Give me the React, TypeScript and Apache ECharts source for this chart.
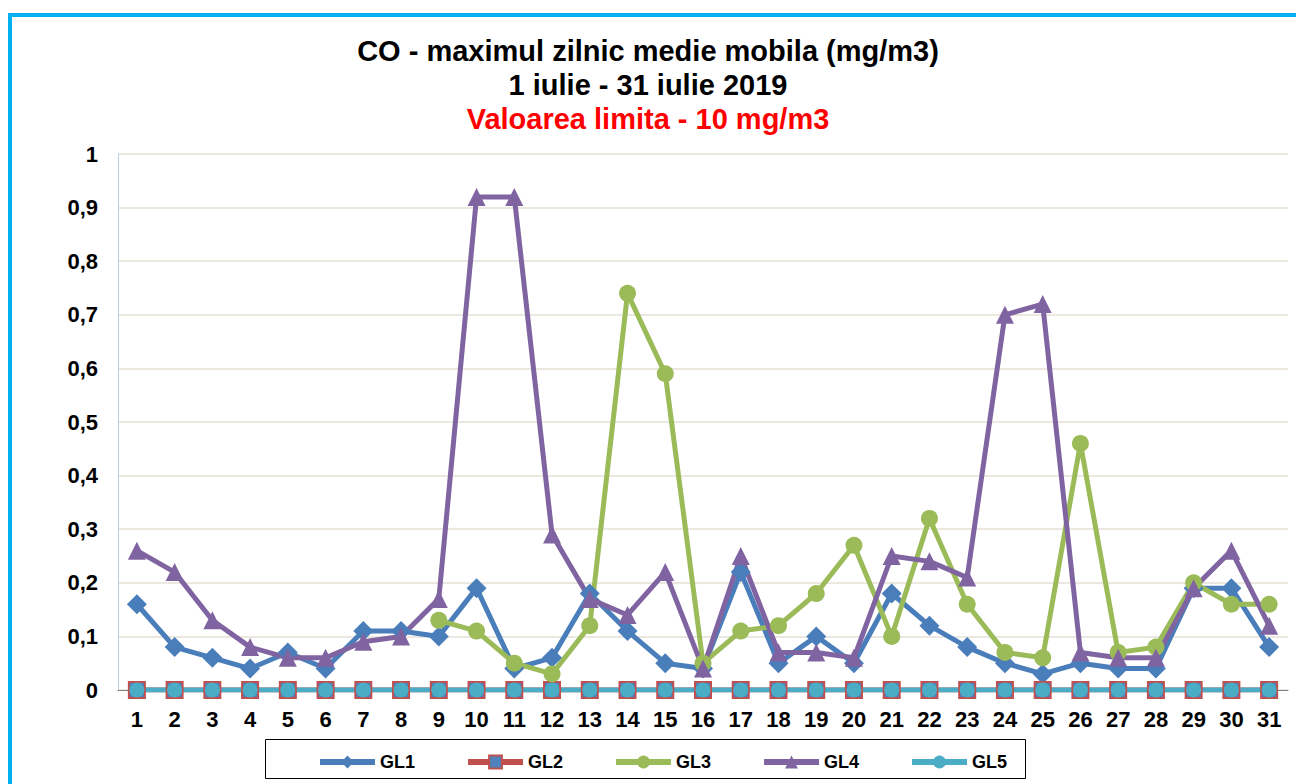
import React, { useEffect, useRef } from "react";
import * as echarts from "echarts";

const days = Array.from({ length: 31 }, (_, i) => String(i + 1));
const gl1 = [0.16, 0.08, 0.06, 0.04, 0.07, 0.04, 0.11, 0.11, 0.10, 0.19, 0.04, 0.06, 0.18, 0.11, 0.05, 0.04, 0.22, 0.05, 0.10, 0.05, 0.18, 0.12, 0.08, 0.05, 0.03, 0.05, 0.04, 0.04, 0.19, 0.19, 0.08];
const gl2 = [0, 0, 0, 0, 0, 0, 0, 0, 0, 0, 0, 0, 0, 0, 0, 0, 0, 0, 0, 0, 0, 0, 0, 0, 0, 0, 0, 0, 0, 0, 0];
const gl3 = [null, null, null, null, null, null, null, null, 0.13, 0.11, 0.05, 0.03, 0.12, 0.74, 0.59, 0.05, 0.11, 0.12, 0.18, 0.27, 0.10, 0.32, 0.16, 0.07, 0.06, 0.46, 0.07, 0.08, 0.20, 0.16, 0.16];
const gl4 = [0.26, 0.22, 0.13, 0.08, 0.06, 0.06, 0.09, 0.10, 0.17, 0.92, 0.92, 0.29, 0.17, 0.14, 0.22, 0.04, 0.25, 0.07, 0.07, 0.06, 0.25, 0.24, 0.21, 0.70, 0.72, 0.07, 0.06, 0.06, 0.19, 0.26, 0.12];
const gl5 = [0, 0, 0, 0, 0, 0, 0, 0, 0, 0, 0, 0, 0, 0, 0, 0, 0, 0, 0, 0, 0, 0, 0, 0, 0, 0, 0, 0, 0, 0, 0];

const titleLines = ["CO - maximul zilnic medie mobila (mg/m3)", "1 iulie - 31 iulie 2019", "Valoarea limita - 10 mg/m3"];

const FONT = "Liberation Sans, Arial, sans-serif";

export default function App() {
  const ref = useRef<HTMLDivElement>(null);
  useEffect(() => {
    if (!ref.current) return;
    const chart = echarts.init(ref.current, null, { renderer: "svg" });
    const mk = (name: string, data: any[], color: string, symbol: string, size: number, extra: any = {}) => ({
      name,
      type: "line",
      data,
      symbol,
      symbolSize: size,
      showAllSymbol: true,
      connectNulls: false,
      lineStyle: { color, width: 5 },
      itemStyle: { color, borderWidth: 0, ...extra },
      emphasis: { disabled: true },
    });
    chart.setOption({
      animation: false,
      backgroundColor: "#ffffff",
      title: [
        { text: titleLines[0], left: "center", top: 31, textStyle: { fontFamily: FONT, fontSize: 29, fontWeight: "bold", color: "#000" } },
        { text: titleLines[1], left: "center", top: 65, textStyle: { fontFamily: FONT, fontSize: 29, fontWeight: "bold", color: "#000" } },
        { text: titleLines[2], left: "center", top: 99, textStyle: { fontFamily: FONT, fontSize: 29, fontWeight: "bold", color: "#FF0000" } },
      ],
      graphic: [
        { type: "rect", shape: { x: 10, y: 15, width: 1310, height: 800 }, style: { fill: "none", stroke: "#00B0F0", lineWidth: 4 }, silent: true },
        { type: "rect", shape: { x: 265.5, y: 739.5, width: 760, height: 39 }, style: { fill: "none", stroke: "#000", lineWidth: 1 }, silent: true },
      ],
      legend: {
        left: 312,
        top: 748,
        itemWidth: 55,
        itemHeight: 16,
        itemGap: 50,
        lineStyle: { width: 6 },
        textStyle: { fontFamily: FONT, fontSize: 18, fontWeight: "bold", color: "#000" },
        data: ["GL1", "GL2", "GL3", "GL4", "GL5"],
      },
      grid: { left: 118, right: 8, top: 154, bottom: 94, containLabel: false },
      xAxis: {
        type: "category",
        data: days,
        boundaryGap: true,
        axisLine: { lineStyle: { color: "#7F7F7F", width: 1 } },
        axisTick: { show: false },
        axisLabel: { fontFamily: FONT, fontSize: 22, fontWeight: "bold", color: "#000", margin: 18, interval: 0 },
      },
      yAxis: {
        type: "value",
        min: 0,
        max: 1,
        interval: 0.1,
        axisLine: { show: true, lineStyle: { color: "#B9CDE5", width: 1 } },
        axisTick: { show: false },
        splitLine: { lineStyle: { color: "#ECE8DF", width: 2 } },
        axisLabel: {
          fontFamily: FONT,
          fontSize: 22,
          fontWeight: "bold",
          color: "#000",
          margin: 20,
          formatter: (v: number) => String(Math.round(v * 10) / 10).replace(".", ","),
        },
      },
      series: [
        mk("GL1", gl1, "#4A7EBB", "diamond", 20),
        mk("GL2", gl2, "#4A7EBB", "rect", 16, { color: "#4F81BD", borderColor: "#C0504D", borderWidth: 2 }),
        mk("GL3", gl3, "#9BBB59", "circle", 17),
        mk("GL4", gl4, "#8064A2", "triangle", 18),
        mk("GL5", gl5, "#4BACC6", "circle", 15),
      ].map((s, i) => (i === 1 ? { ...s, lineStyle: { color: "#C0504D", width: 5 } } : s)),
    });
    return () => chart.dispose();
  }, []);
  return (
    <div style={{ position: "absolute", left: 0, top: 0, width: 1296, height: 784, overflow: "hidden" }}>
      <div ref={ref} style={{ width: 1296, height: 784 }} />
    </div>
  );
}
